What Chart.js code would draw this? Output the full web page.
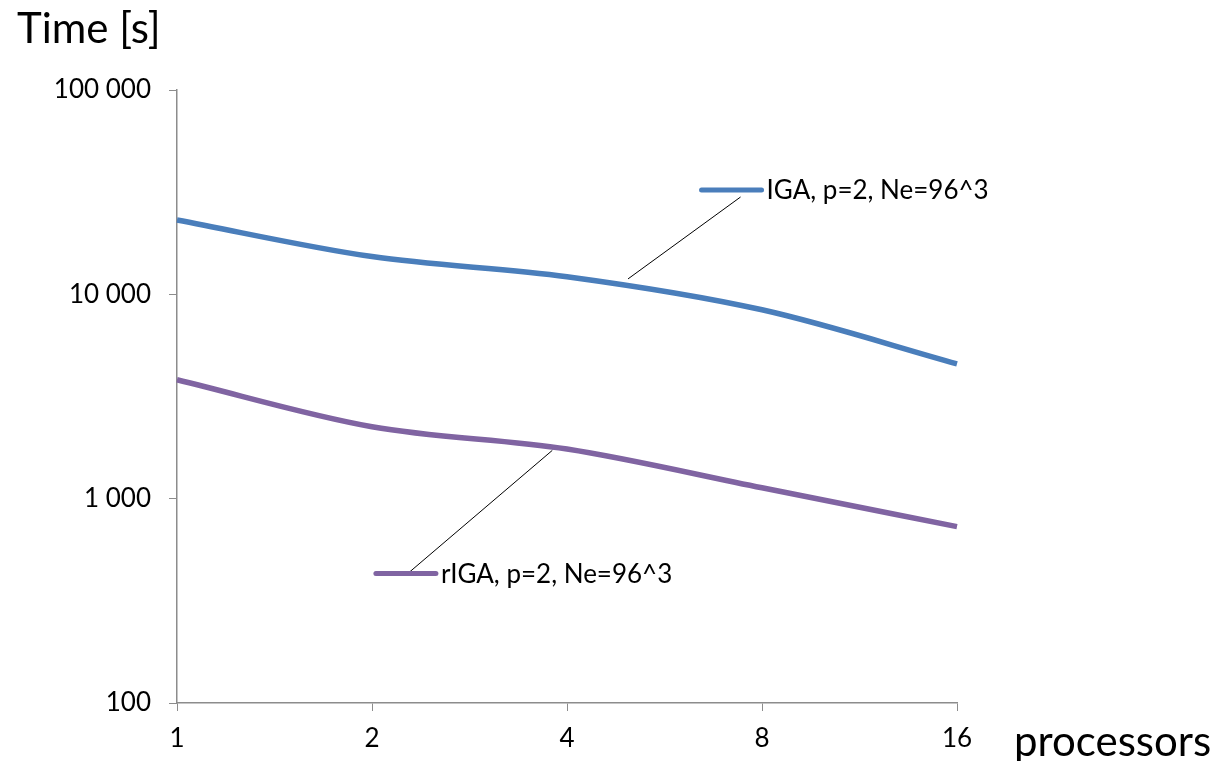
<!DOCTYPE html>
<html>
<head>
<meta charset="utf-8">
<script src="https://cdn.jsdelivr.net/npm/chart.js@4/dist/chart.umd.min.js"></script>
<style>
  html, body { margin: 0; padding: 0; background: #fff; }
  #wrap { width: 1219px; height: 761px; position: relative; }
</style>
</head>
<body>
<div id="wrap"><canvas id="mycanvas"></canvas></div>
<script>
var processors = ['1', '2', '4', '8', '16'];
var igaTimes = [23100, 15300, 12200, 8400, 4570];
var rigaTimes = [3820, 2250, 1750, 1130, 730];
var seriesNames = ['IGA, p=2, Ne=96^3', 'rIGA, p=2, Ne=96^3'];
var yTickValues = [100, 1000, 10000, 100000];

var blue = '#4A7EBB';
var purple = '#8064A2';
var axisGray = '#8C8C8C';
var font = 'Lato, "Open Sans", sans-serif';

// label boxes: where the series name sits and where its leader line ends (data space)
var labelSpots = [
  { text: seriesNames[0], color: blue, at: [2.69, 32400], to: [2.313, 11900], lead: [39, 7] },
  { text: seriesNames[1], color: purple, at: [1.02, 430], to: [1.923, 1718], lead: [33, -1] }
];

function fmt(v) {
  return String(v).replace(/\B(?=(\d{3})+(?!\d))/g, ' ');
}

var extras = {
  id: 'extras',
  afterDatasetsDraw: function(chart) {
    var c = chart.ctx, xs = chart.scales.x, ys = chart.scales.y;
    c.save();
    labelSpots.forEach(function(s) {
      var ax = xs.getPixelForValue(s.at[0]), ay = ys.getPixelForValue(s.at[1]);
      var tx = xs.getPixelForValue(s.to[0]), ty = ys.getPixelForValue(s.to[1]);
      var lineLen = 60;
      // leader
      c.strokeStyle = '#000';
      c.lineWidth = 1;
      c.beginPath();
      c.moveTo(ax + s.lead[0], ay + s.lead[1]);
      c.lineTo(tx, ty);
      c.stroke();
      // legend key line
      c.strokeStyle = s.color;
      c.lineWidth = 5;
      c.lineCap = 'round';
      c.beginPath();
      c.moveTo(ax, ay);
      c.lineTo(ax + lineLen, ay);
      c.stroke();
      c.fillStyle = '#000';
      c.font = '26px ' + font;
      c.textBaseline = 'middle';
      c.textAlign = 'left';
      c.fillText(s.text, ax + lineLen + 5, ay + 1);
    });
    c.fillStyle = '#000';
    c.font = '42px ' + font;
    c.textBaseline = 'middle';
    c.textAlign = 'left';
    c.fillText('Time [s]', 17, 29);
    c.fillText('processors', 1014, 742);
    c.restore();
  }
};

var ctx = document.getElementById('mycanvas');
var chartdata = {
  labels: processors,
  datasets: [
    { label: seriesNames[0], data: igaTimes, borderColor: blue, borderWidth: 5.5,
      pointRadius: 0, cubicInterpolationMode: 'monotone', fill: false },
    { label: seriesNames[1], data: rigaTimes, borderColor: purple, borderWidth: 5.5,
      pointRadius: 0, cubicInterpolationMode: 'monotone', fill: false }
  ]
};

new Chart(ctx, {
  type: 'line',
  data: chartdata,
  plugins: [extras],
  options: {
    responsive: true,
    maintainAspectRatio: false,
    animation: false,
    layout: { padding: { left: 0, right: 262, top: 90, bottom: 0 } },
    plugins: { legend: { display: false }, tooltip: { enabled: false } },
    scales: {
      x: {
        offset: false,
        grid: { display: true, drawOnChartArea: false, drawTicks: true, tickLength: 8, color: axisGray },
        border: { color: axisGray, width: 1.5 },
        ticks: { color: '#000', font: { family: font, size: 26 }, padding: 12, maxRotation: 0 },
        afterFit: function(s) { s.height = 58; }
      },
      y: {
        type: 'logarithmic',
        min: 100,
        max: 100000,
        grid: { display: true, drawOnChartArea: false, drawTicks: true, tickLength: 8, color: axisGray },
        border: { color: axisGray, width: 1.5 },
        afterBuildTicks: function(s) {
          s.ticks = yTickValues.map(function(v) { return { value: v, major: true }; });
        },
        ticks: {
          color: '#000', font: { family: font, size: 26 }, padding: 18,
          callback: function(v) { return fmt(v); }
        },
        afterFit: function(s) { s.width = 177; }
      }
    }
  }
});
</script>
</body>
</html>
